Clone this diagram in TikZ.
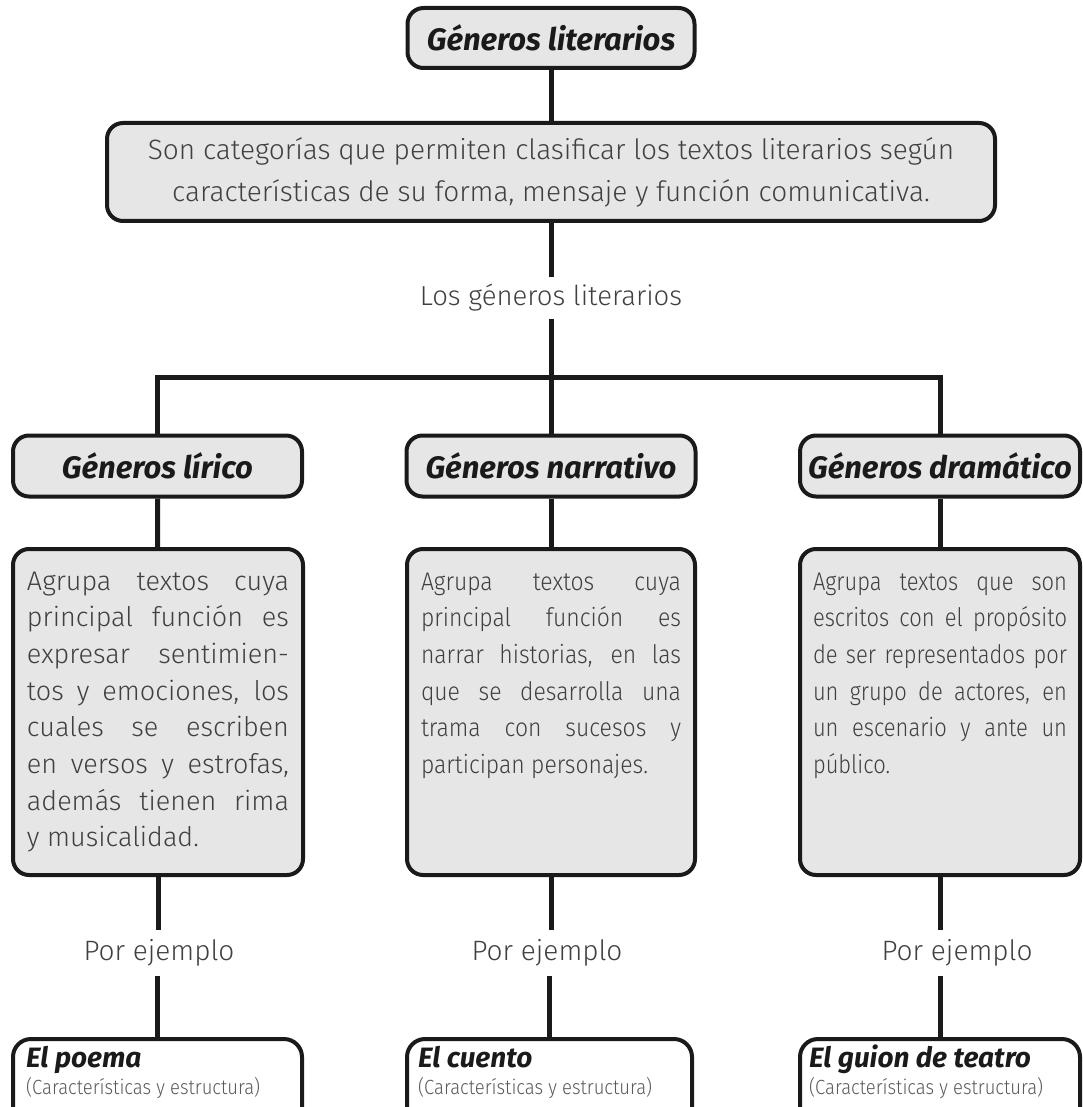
\documentclass[tikz,border=0pt]{standalone}
\usepackage{fontspec}
\setmainfont{Fira Sans}
\newfontfamily\lightfont{Fira Sans Light}
\newfontfamily\condfont{Fira Sans Light}[FakeStretch=0.9]
\newfontfamily\narrowfont{Fira Sans Light}[FakeStretch=0.86]
\newfontfamily\titlefont{Fira Sans}
\definecolor{boxgray}{HTML}{E6E6E6}
\definecolor{txtgray}{HTML}{404040}
\definecolor{subgray}{HTML}{5A5A5A}
\definecolor{linec}{HTML}{1A1A1A}
\newcommand\jl[1]{\makebox[\linewidth][s]{#1}\par}
\tikzset{
  gbox/.style={draw=linec, line width=4pt, fill=boxgray, rounded corners=16pt, inner sep=0pt},
  wbox/.style={draw=linec, line width=4pt, fill=white, rounded corners=18pt, inner sep=0pt},
  titletext/.style={font=\titlefont\bfseries\itshape\fontsize{31}{34}\selectfont, text=linec},
  bodytext/.style={font=\lightfont\fontsize{28}{42}\selectfont, text=txtgray},
  lbltext/.style={font=\lightfont\fontsize{27.5}{32}\selectfont, text=txtgray, inner ysep=7pt},
  desctext/.style={font=\lightfont\fontsize{23}{36.7}\selectfont, text=txtgray},
  exlabel/.style={font=\lightfont\fontsize{28}{32}\selectfont, text=txtgray, inner ysep=9pt, inner xsep=2pt},
  extitle/.style={font=\titlefont\bfseries\itshape\fontsize{28}{30}\selectfont, text=linec, anchor=base west, inner sep=0pt},
  exsub/.style={font=\condfont\fontsize{20.5}{22}\selectfont, text=subgray, anchor=base west, inner sep=0pt},
  conn/.style={draw=linec, line width=5pt}
}
\begin{document}
\begin{tikzpicture}[x=1pt,y=-1pt]
\useasboundingbox (0,0) rectangle (1082,1107);
\clip (0,0) rectangle (1082,1107);
% top
\node[gbox, minimum width=287pt, minimum height=60pt, titletext] (top) at (551,38) {Géneros literarios};
\node[gbox, minimum width=888pt, minimum height=98pt, align=center, bodytext] (def) at (551,172)
  {Son categorías que permiten clasificar los textos literarios según\\características de su forma, mensaje y función comunicativa.};
\node[lbltext] (lbl) at (551,298) {Los géneros literarios};
\coordinate (jn) at (551,377);
% genres
\node[gbox, minimum width=289pt, minimum height=61pt, titletext] (g1) at (157.5,466) {Géneros lírico};
\node[gbox, minimum width=289pt, minimum height=61pt, titletext] (g2) at (551,466) {Géneros narrativo};
\node[gbox, minimum width=280pt, minimum height=61pt, titletext] (g3) at (940,466) {Géneros dramático};
% descriptions
\node[gbox, minimum width=290pt, minimum height=326pt, desctext] (d1) at (158,712) {\parbox[t][300pt][t]{262pt}{%
\fontsize{27}{36.7}\selectfont
\jl{\rule{0pt}{28pt}Agrupa textos cuya}
\jl{principal función es}
\jl{expresar sentimien-}
\jl{tos y emociones, los}
\jl{cuales se escriben}
\jl{en versos y estrofas,}
\jl{además tienen rima}
y musicalidad.}};
\node[gbox, minimum width=288pt, minimum height=326pt, desctext] (d2) at (551,712) {\parbox[t][300pt][t]{260pt}{%
\condfont\fontsize{25.5}{36.7}\selectfont
\jl{\rule{0pt}{28pt}Agrupa textos cuya}
\jl{principal función es}
\jl{narrar historias, en las}
\jl{que se desarrolla una}
\jl{trama con sucesos y}
participan personajes.}};
\node[gbox, minimum width=280pt, minimum height=326pt, desctext] (d3) at (940,712) {\parbox[t][300pt][t]{254pt}{%
\narrowfont\fontsize{25.5}{36.7}\selectfont
\jl{\rule{0pt}{28pt}Agrupa textos que son}
\jl{escritos con el propósito}
\jl{de ser representados por}
\jl{un grupo de actores, en}
\jl{un escenario y ante un}
público.}};
% por ejemplo
\node[exlabel] (p1) at (159,953) {Por ejemplo};
\node[exlabel] (p2) at (547,953) {Por ejemplo};
\node[exlabel] (p3) at (957,953) {Por ejemplo};
% example boxes
\node[wbox, minimum width=289pt, minimum height=140pt, anchor=north] (e1) at (157.5,1037) {};
\node[wbox, minimum width=285pt, minimum height=140pt, anchor=north] (e2) at (549.5,1037) {};
\node[wbox, minimum width=280pt, minimum height=140pt, anchor=north] (e3) at (940,1037) {};
\node[extitle] (t1) at (26,1067) {El poema};
\node[exsub] (s1) at (26,1094) {(Características y estructura)};
\node[extitle] (t2) at (418,1067) {El cuento};
\node[exsub] (s2) at (418,1094) {(Características y estructura)};
\node[extitle] (t3) at (809,1067) {El guion de teatro};
\node[exsub] (s3) at (809,1094) {(Características y estructura)};
% connectors
\draw[conn] (top) -- (def);
\draw[conn] (def) -- (lbl);
\draw[conn] (lbl) -- (jn);
\draw[conn, line join=miter] (g1.north) |- (jn) -| (g3.north);
\draw[conn] (jn) -- (g2.north);
\draw[conn] (g1) -- (d1);
\draw[conn] (g2) -- (d2);
\draw[conn] (g3) -- (d3);
\draw[conn] (d1.south) -- (d1.south |- p1.north);
\draw[conn] (d2.south) -- (d2.south |- p2.north);
\draw[conn] (d3.south) -- (d3.south |- p3.north);
\draw[conn] (e1.north |- p1.south) -- (e1.north);
\draw[conn] (e2.north |- p2.south) -- (e2.north);
\draw[conn] (e3.north |- p3.south) -- (e3.north);
\end{tikzpicture}
\end{document}
